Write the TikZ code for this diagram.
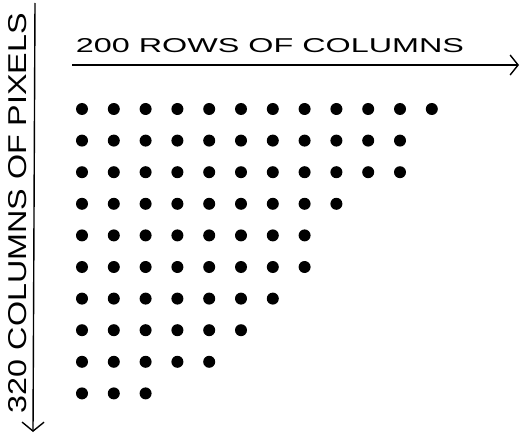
\documentclass[tikz,border=0pt]{standalone}
\usepackage{graphicx}
\usepackage{fontspec}
\setsansfont{Liberation Sans}
\usetikzlibrary{arrows.meta}
\begin{document}
\begin{tikzpicture}[x=1pt, y=-1pt]
  \useasboundingbox (0,0) rectangle (520,436);
  \coordinate (hstart) at (72,65);
  \coordinate (hend) at (519,65);
  \coordinate (vstart) at (35,3);
  \coordinate (vend) at (33,432);
  \draw[line width=1.4pt, -{Straight Barb[length=8pt,width=20pt]}] (hstart) -- (hend);
  \draw[line width=1.4pt, -{Straight Barb[length=9pt,width=22pt]}] (vstart) -- (vend);
  \node (hlabel) at (270,46) {\resizebox{388pt}{14pt}{\sffamily 200 ROWS OF COLUMNS}};
  \node[rotate=90] (vlabel) at (18,213) {\resizebox{400pt}{18pt}{\sffamily 320 COLUMNS OF PIXELS}};
  % pixel dots, one row per line
  \foreach \n [count=\r from 0] in {12,11,11,9,8,8,7,6,5,3}
    \foreach \c in {1,...,\n}
      \fill ({82+31.8*(\c-1)}, {109+31.6*\r}) circle (6);
\end{tikzpicture}
\end{document}
